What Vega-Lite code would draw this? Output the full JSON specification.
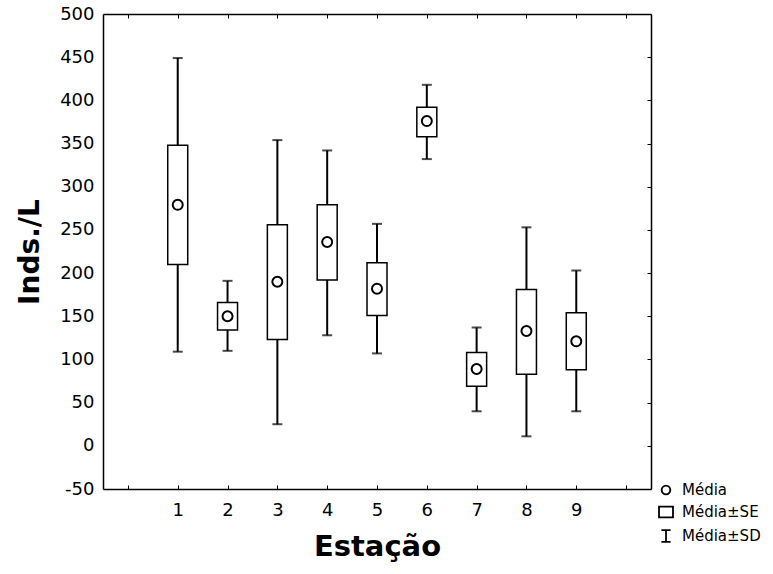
{
  "$schema": "https://vega.github.io/schema/vega-lite/v6.json",
  "width": 548,
  "height": 475,
  "autosize": "none",
  "padding": {"left": 103, "top": 14, "right": 122, "bottom": 85},
  "background": "white",
  "config": {
    "font": "DejaVu Sans",
    "view": {"stroke": null},
    "axis": {"domainColor": "black", "domainWidth": 1.5, "tickColor": "black", "tickWidth": 1, "labelColor": "black", "titleColor": "black", "grid": false, "labelFont": "DejaVu Sans", "titleFont": "DejaVu Sans"}
  },
  "data": {
    "values": [
      {"station": 1, "mean": 279, "seLow": 210, "seHigh": 348, "sdLow": 109, "sdHigh": 449},
      {"station": 2, "mean": 150, "seLow": 134, "seHigh": 166, "sdLow": 110, "sdHigh": 191},
      {"station": 3, "mean": 190, "seLow": 123, "seHigh": 256, "sdLow": 25, "sdHigh": 354},
      {"station": 4, "mean": 236, "seLow": 192, "seHigh": 279, "sdLow": 128, "sdHigh": 342},
      {"station": 5, "mean": 182, "seLow": 151, "seHigh": 212, "sdLow": 107, "sdHigh": 257},
      {"station": 6, "mean": 376, "seLow": 358, "seHigh": 392, "sdLow": 332, "sdHigh": 418},
      {"station": 7, "mean": 89, "seLow": 69, "seHigh": 108, "sdLow": 40, "sdHigh": 137},
      {"station": 8, "mean": 133, "seLow": 83, "seHigh": 181, "sdLow": 11, "sdHigh": 253},
      {"station": 9, "mean": 121, "seLow": 88, "seHigh": 154, "sdLow": 40, "sdHigh": 203}
    ]
  },
  "resolve": {"axis": {"x": "independent", "y": "independent"}},
  "layer": [
    {
      "mark": {"type": "rule", "color": "black", "strokeWidth": 2},
      "encoding": {
        "x": {"field": "station", "type": "quantitative", "scale": {"domain": [-0.5, 10.5], "nice": false, "zero": false, "padding": 0},
          "axis": {"orient": "bottom", "values": [0,1,2,3,4,5,6,7,8,9,10], "tickSize": -4, "labelExpr": "datum.value >= 1 && datum.value <= 9 ? datum.label : ''", "labelFontSize": 18, "labelPadding": 16, "labelFontWeight": "normal", "title": "Estação", "titleFontSize": 29, "titleFontWeight": "bold", "titlePadding": 13}},
        "y": {"field": "sdLow", "type": "quantitative", "scale": {"domain": [-50, 500], "nice": false, "zero": false, "padding": 0},
          "axis": {"orient": "left", "values": [-50,0,50,100,150,200,250,300,350,400,450,500], "ticks": false, "labelExpr": "datum.value + ''", "labelFontSize": 18, "labelPadding": 9, "title": "Inds./L", "titleFontSize": 28, "titleFontWeight": "bold", "titlePadding": 15}},
        "y2": {"field": "sdHigh"}
      }
    },
    {
      "mark": {"type": "tick", "orient": "horizontal", "color": "black", "size": 10, "thickness": 2},
      "encoding": {
        "x": {"field": "station", "type": "quantitative", "axis": null},
        "y": {"field": "sdLow", "type": "quantitative", "axis": null}
      }
    },
    {
      "mark": {"type": "tick", "orient": "horizontal", "color": "black", "size": 10, "thickness": 2},
      "encoding": {
        "x": {"field": "station", "type": "quantitative", "axis": null},
        "y": {"field": "sdHigh", "type": "quantitative", "axis": null}
      }
    },
    {
      "mark": {"type": "bar", "size": 20, "fill": "white", "stroke": "black", "strokeWidth": 1.5},
      "encoding": {
        "x": {"field": "station", "type": "quantitative",
          "axis": {"orient": "top", "values": [0,1,2,3,4,5,6,7,8,9,10], "tickSize": -4, "labels": false, "title": null}},
        "y": {"field": "seLow", "type": "quantitative",
          "axis": {"orient": "right", "values": [-50,0,50,100,150,200,250,300,350,400,450,500], "tickSize": -4, "labels": false, "title": null}},
        "y2": {"field": "seHigh"}
      }
    },
    {
      "mark": {"type": "point", "filled": false, "color": "black", "strokeWidth": 2, "size": 260, "opacity": 1},
      "encoding": {
        "x": {"field": "station", "type": "quantitative", "axis": null},
        "y": {"field": "mean", "type": "quantitative", "axis": null},
        "shape": {"datum": "Média", "type": "nominal",
          "scale": {"domain": ["Média", "Média±SE", "Média±SD"], "range": ["M0.62,0A0.62,0.62 0 1,1 -0.62,0A0.62,0.62 0 1,1 0.62,0Z", "M-1,-0.78H1V0.78H-1Z", "M-0.66,-0.85H0.66M0,-0.85V0.85M-0.66,0.85H0.66"]},
          "legend": {"title": null, "orient": "none", "legendX": 555, "legendY": 468, "padding": 0, "symbolSize": 196, "symbolStrokeWidth": 1.8, "symbolStrokeColor": "black", "symbolFillColor": "white", "labelFont": "DejaVu Sans", "labelFontSize": 15, "labelColor": "black", "labelOffset": 8, "rowPadding": 4}}
      }
    }
  ]
}
